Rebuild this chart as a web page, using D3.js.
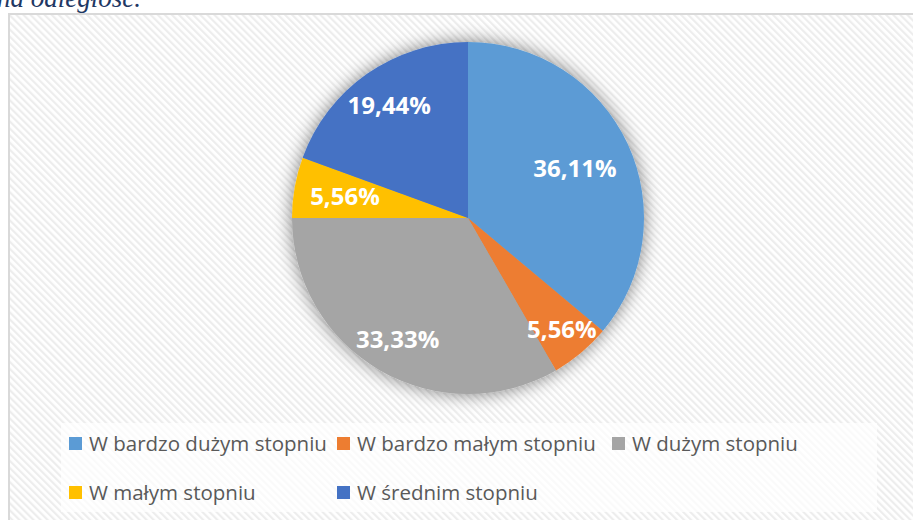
<!DOCTYPE html>
<meta charset="utf-8">
<style>
body { margin: 0; background: #fff; }
.lbl { font-family: "Open Sans", sans-serif; font-weight: bold; font-size: 24px; fill: #fff; }
.leg { font-family: "Open Sans", sans-serif; font-size: 20.5px; fill: #595959; }
.ttl { font-family: "Liberation Serif", serif; font-style: italic; font-size: 27px; fill: #1f3864; }
</style>
<svg width="913" height="520"></svg>
<script src="https://cdn.jsdelivr.net/npm/d3@7"></script>
<script>
// data
var categories = ["W bardzo dużym stopniu", "W bardzo małym stopniu", "W dużym stopniu", "W małym stopniu", "W średnim stopniu"];
var values = [36.11, 5.56, 33.33, 5.56, 19.44];
var labels = ["36,11%", "5,56%", "33,33%", "5,56%", "19,44%"];
var colors = ["#5b9bd5", "#ed7d31", "#a5a5a5", "#ffc000", "#4472c4"];

// layout
var labelRadius = [0.67, 0.83, 0.80, 0.71, 0.78];
var legendCols = [69, 337, 612];
var legendRows = [444, 493];

var svg = d3.select("svg");
var defs = svg.append("defs");

var pat = defs.append("pattern")
    .attr("id", "hatch")
    .attr("patternUnits", "userSpaceOnUse")
    .attr("width", 5).attr("height", 5)
    .attr("patternTransform", "rotate(-45)");
pat.append("rect").attr("width", 5).attr("height", 5).attr("fill", "#ffffff");
pat.append("rect").attr("width", 2.2).attr("height", 5).attr("fill", "#ededed");

var flt = defs.append("filter").attr("id", "shadow")
    .attr("x", "-20%").attr("y", "-20%").attr("width", "140%").attr("height", "140%");
flt.append("feGaussianBlur").attr("in", "SourceAlpha").attr("stdDeviation", 9);
flt.append("feComponentTransfer").append("feFuncA").attr("type", "linear").attr("slope", 0.5);
var mrg = flt.append("feMerge");
mrg.append("feMergeNode");
mrg.append("feMergeNode").attr("in", "SourceGraphic");

// title fragment from the page above the chart
svg.append("text").attr("class", "ttl").attr("x", -3).attr("y", 7).text("na odległość.");

// chart area
svg.append("rect")
    .attr("x", 9).attr("y", 14).attr("width", 920).attr("height", 520)
    .attr("fill", "url(#hatch)")
    .attr("stroke", "#d9d9d9").attr("stroke-width", 2);

var cx = 468, cy = 218, R = 176;

var pie = d3.pie().sort(null).value(function(d) { return d; });
var arcs = pie(values);
var arc = d3.arc().innerRadius(0).outerRadius(R);

var g = svg.append("g").attr("transform", "translate(" + cx + "," + cy + ")");

g.append("g").attr("filter", "url(#shadow)")
  .selectAll("path")
  .data(arcs)
  .enter().append("path")
    .attr("d", arc)
    .attr("fill", function(d, i) { return colors[i]; });

g.selectAll("text.lbl")
  .data(arcs)
  .enter().append("text")
    .attr("class", "lbl")
    .attr("text-anchor", "middle")
    .attr("dy", "0.35em")
    .attr("transform", function(d, i) {
      var a = (d.startAngle + d.endAngle) / 2, r = R * labelRadius[i];
      return "translate(" + (Math.sin(a) * r) + "," + (-Math.cos(a) * r) + ")";
    })
    .text(function(d, i) { return labels[i]; });

// legend
svg.append("rect")
    .attr("x", 61).attr("y", 423).attr("width", 816).attr("height", 89)
    .attr("fill", "#ffffff").attr("fill-opacity", 0.7);

var leg = svg.selectAll("g.legitem")
  .data(categories)
  .enter().append("g")
    .attr("class", "legitem")
    .attr("transform", function(d, i) {
      var row = i < 3 ? 0 : 1, col = i < 3 ? i : i - 3;
      return "translate(" + legendCols[col] + "," + legendRows[row] + ")";
    });
leg.append("rect")
    .attr("x", 0).attr("y", -7).attr("width", 13).attr("height", 13)
    .attr("fill", function(d, i) { return colors[i]; });
leg.append("text")
    .attr("class", "leg")
    .attr("x", 20).attr("dy", "0.35em")
    .text(function(d) { return d; });
</script>
